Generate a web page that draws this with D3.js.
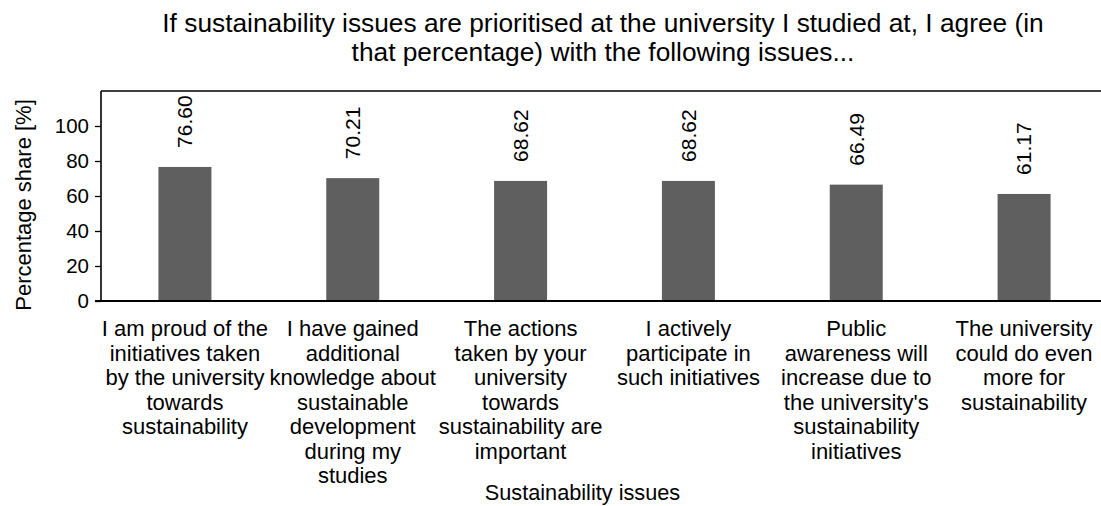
<!DOCTYPE html>
<html>
<head>
<meta charset="utf-8">
<script src="https://cdn.jsdelivr.net/npm/d3@7"></script>
<style>
  html, body { margin: 0; padding: 0; background: #fff; }
  svg { display: block; font-family: "Liberation Sans", Arial, sans-serif; }
</style>
</head>
<body>
<svg id="chart" width="1101" height="506"></svg>
<script>
// Survey categories (line breaks as shown under each bar)
const categories = [
  "I am proud of the\ninitiatives taken\nby the university\ntowards\nsustainability",
  "I have gained\nadditional\nknowledge about\nsustainable\ndevelopment\nduring my\nstudies",
  "The actions\ntaken by your\nuniversity\ntowards\nsustainability are\nimportant",
  "I actively\nparticipate in\nsuch initiatives",
  "Public\nawareness will\nincrease due to\nthe university's\nsustainability\ninitiatives",
  "The university\ncould do even\nmore for\nsustainability"
];
const shares = [76.60, 70.21, 68.62, 68.62, 66.49, 61.17];
const yTicks = [0, 20, 40, 60, 80, 100];
const titleLines = [
  "If sustainability issues are prioritised at the university I studied at, I agree (in",
  "that percentage) with the following issues..."
];
const xTitle = "Sustainability issues";
const yTitle = "Percentage share [%]";

const svg = d3.select("#chart");
const plotLeft = 101, plotRight = 1108, plotTop = 91, plotBottom = 301;

const x = d3.scaleBand().domain(d3.range(categories.length)).range([plotLeft, plotRight]).padding(0);
const y = d3.scaleLinear().domain([0, 120]).range([plotBottom, plotTop]);
const barW = 53;

// Title
svg.append("g").selectAll("text").data(titleLines).join("text")
  .attr("x", 603).attr("y", (d, i) => 31.5 + i * 29.5)
  .attr("text-anchor", "middle").attr("font-size", 26.3).attr("fill", "#000")
  .text(d => d);

// Bars
svg.append("g").selectAll("rect").data(shares).join("rect")
  .attr("x", (d, i) => x(i) + x.bandwidth() / 2 - barW / 2)
  .attr("y", d => y(d))
  .attr("width", barW)
  .attr("height", d => y(0) - y(d))
  .attr("fill", "#5f5f5f");

// Value labels (rotated)
svg.append("g").selectAll("text").data(shares).join("text")
  .attr("transform", (d, i) => `translate(${x(i) + x.bandwidth() / 2},${y(d) - 19}) rotate(-90)`)
  .attr("dy", "0.35em")
  .attr("font-size", 21).attr("fill", "#000")
  .text(d => d.toFixed(2));

// Y axis
const yAxis = svg.append("g").attr("transform", `translate(${plotLeft},0)`)
  .call(d3.axisLeft(y).tickValues(yTicks).tickSize(6).tickPadding(6).tickFormat(d3.format("d")));
yAxis.select(".domain").remove();
yAxis.selectAll("line").attr("stroke", "#000").attr("stroke-width", 1.3);
yAxis.selectAll("text").attr("font-size", 20.5).attr("fill", "#000")
  .attr("font-family", "Liberation Sans, Arial, sans-serif");

// Frame lines: left, top, bottom
svg.append("line").attr("x1", plotLeft).attr("x2", plotLeft).attr("y1", plotTop).attr("y2", plotBottom)
  .attr("stroke", "#000").attr("stroke-width", 1.6);
svg.append("line").attr("x1", plotLeft).attr("x2", plotRight).attr("y1", plotTop).attr("y2", plotTop)
  .attr("stroke", "#000").attr("stroke-width", 1.3);
svg.append("line").attr("x1", plotLeft - 6).attr("x2", plotRight).attr("y1", plotBottom).attr("y2", plotBottom)
  .attr("stroke", "#000").attr("stroke-width", 2);

// Category labels
const catG = svg.append("g").selectAll("text").data(categories).join("text")
  .attr("text-anchor", "middle").attr("font-size", 22).attr("fill", "#000");
catG.each(function(d, i) {
  const t = d3.select(this);
  d.split("\n").forEach((line, j) => {
    t.append("tspan").attr("x", x(i) + x.bandwidth() / 2).attr("y", 336 + j * 24.5).text(line);
  });
});

// Axis titles
svg.append("text").attr("x", 582.5).attr("y", 500).attr("text-anchor", "middle")
  .attr("font-size", 21.7).attr("fill", "#000").text(xTitle);
svg.append("text").attr("transform", "translate(31,205) rotate(-90)")
  .attr("text-anchor", "middle").attr("font-size", 22).attr("fill", "#000").text(yTitle);
</script>
</body>
</html>
